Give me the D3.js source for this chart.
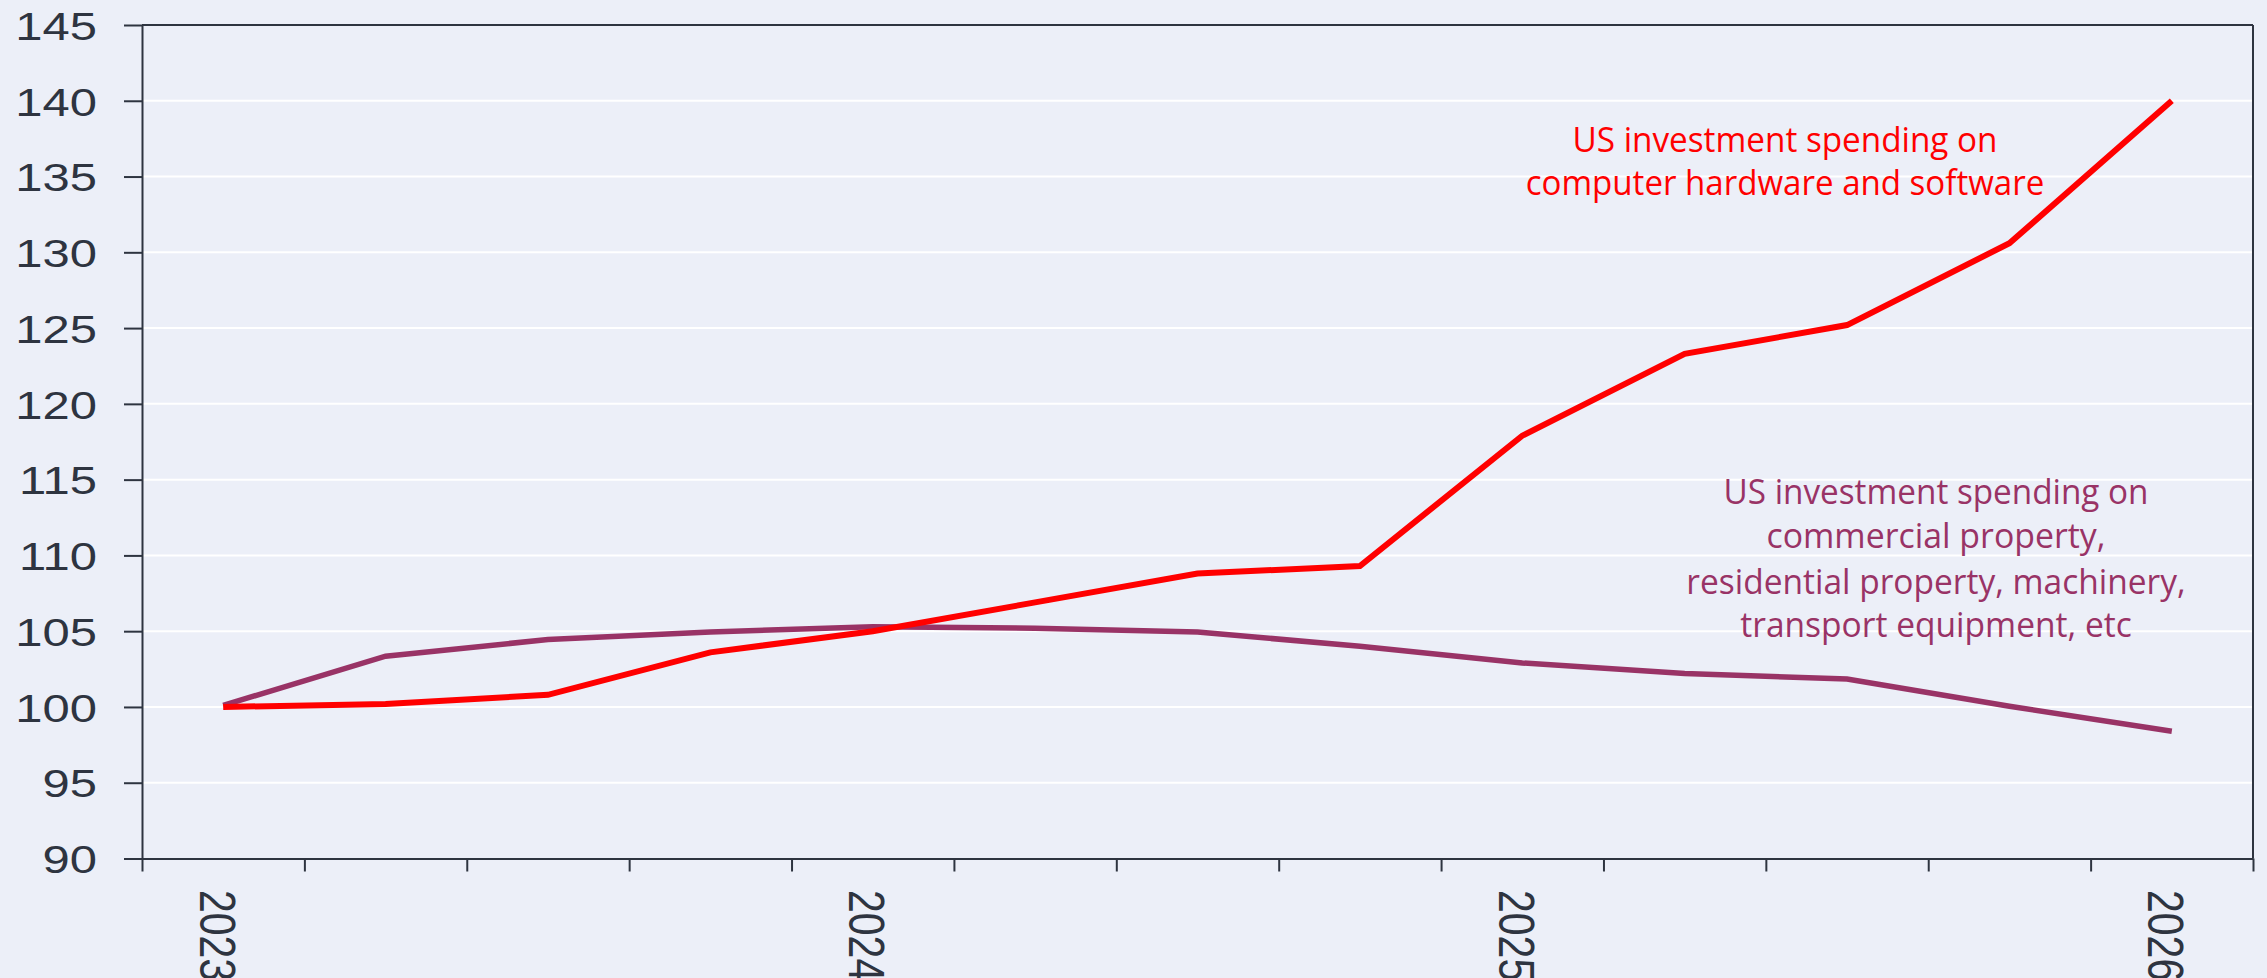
<!DOCTYPE html>
<html>
<head>
<meta charset="utf-8">
<script src="https://cdn.jsdelivr.net/npm/d3@7"></script>
<style>
  html, body { margin: 0; padding: 0; background: #eceff8; }
  svg { display: block; }
</style>
</head>
<body>
<svg id="chart" width="2267" height="978"></svg>
<script>
// ---------------- DATA ----------------
const quarters = [
  "2023 Q1", "2023 Q2", "2023 Q3", "2023 Q4",
  "2024 Q1", "2024 Q2", "2024 Q3", "2024 Q4",
  "2025 Q1", "2025 Q2", "2025 Q3", "2025 Q4",
  "2026 Q1"
];
// US investment spending on computer hardware and software (index)
const techSpending = [100.0, 100.2, 100.8, 103.6, 105.0, 106.9, 108.8, 109.3, 117.9, 123.3, 125.2, 130.6, 140.0];
// US investment spending on everything else (index)
const otherSpending = [100.1, 103.35, 104.45, 104.95, 105.3, 105.2, 104.95, 104.0, 102.9, 102.2, 101.85, 100.05, 98.4];

const yTicks = [90, 95, 100, 105, 110, 115, 120, 125, 130, 135, 140, 145];
const gridTicks = [95, 100, 105, 110, 115, 120, 125, 130, 135, 140];
const yearLabels = ["2023", "2024", "2025", "2026"];
const yearLabelQuarters = ["2023 Q1", "2024 Q1", "2025 Q1", "2026 Q1"];

const techLabel = ["US investment spending on", "computer hardware and software"];
const otherLabel = [
  "US investment spending on",
  "commercial property,",
  "residential property, machinery,",
  "transport equipment, etc"
];

// ---------------- LAYOUT / STYLE ----------------
const W = 2267, H = 978;
const plot = { left: 142, right: 2253, top: 25, bottom: 858.5 };
const C = {
  bg: "#eceff8",
  axis: "#2e3440",
  grid: "#ffffff",
  tech: "#ff0000",
  other: "#993366"
};
const tickFont = "'Liberation Sans', Arial, Helvetica, sans-serif";
const annFont = "'Open Sans', 'Noto Sans', sans-serif";
const hStretch = 1.24;

const svg = d3.select("#chart");
svg.append("rect").attr("width", W).attr("height", H).attr("fill", C.bg);

const x = d3.scaleBand().domain(quarters).range([plot.left, plot.right]).padding(0);
const xEdge = d3.scaleLinear().domain([0, quarters.length]).range([plot.left, plot.right]);
const y = d3.scaleLinear().domain([90, 145]).range([plot.bottom, plot.top]);
const cx = q => x(q) + x.bandwidth() / 2;

// gridlines
svg.append("g")
  .selectAll("line")
  .data(gridTicks)
  .join("line")
  .attr("x1", plot.left).attr("x2", plot.right)
  .attr("y1", d => y(d)).attr("y2", d => y(d))
  .attr("stroke", C.grid).attr("stroke-width", 2);

// frame: top and right
svg.append("line")
  .attr("x1", plot.left).attr("x2", plot.right)
  .attr("y1", y(145)).attr("y2", y(145))
  .attr("stroke", C.axis).attr("stroke-width", 2);
svg.append("line")
  .attr("x1", plot.right).attr("x2", plot.right)
  .attr("y1", y(145)).attr("y2", y(90))
  .attr("stroke", C.axis).attr("stroke-width", 2);

// y axis
const yAxis = svg.append("g")
  .attr("transform", `translate(${plot.left},0)`)
  .call(d3.axisLeft(y).tickValues(yTicks).tickSize(18).tickSizeOuter(0).tickFormat(d3.format("d")));
yAxis.select(".domain").attr("stroke", C.axis).attr("stroke-width", 2);
yAxis.selectAll(".tick line").attr("stroke", C.axis).attr("stroke-width", 2);
yAxis.selectAll(".tick text")
  .attr("x", 0)
  .attr("dy", "0.36em")
  .attr("transform", `translate(${97 - plot.left},0) scale(${hStretch},1)`)
  .attr("text-anchor", "end")
  .style("font-family", tickFont)
  .style("font-size", "39.5px")
  .attr("fill", C.axis);

// x axis (ticks at quarter boundaries)
const xAxis = svg.append("g")
  .attr("transform", `translate(0,${plot.bottom})`)
  .call(d3.axisBottom(xEdge).tickValues(d3.range(quarters.length + 1)).tickSize(13).tickSizeOuter(0).tickFormat(""));
xAxis.select(".domain").attr("stroke", C.axis).attr("stroke-width", 2);
xAxis.selectAll(".tick line").attr("stroke", C.axis).attr("stroke-width", 2);

// year labels (rotated, running off the bottom edge as in the original)
svg.append("g")
  .selectAll("text")
  .data(yearLabels)
  .join("text")
  .attr("transform", (d, i) => `translate(${cx(yearLabelQuarters[i]) - 5},890) scale(${hStretch},1) rotate(90)`)
  .attr("dy", "0.36em")
  .attr("text-anchor", "start")
  .style("font-family", tickFont)
  .style("font-size", "41px")
  .attr("fill", C.axis)
  .text(d => d);

// lines
const line = d3.line().x((d, i) => cx(quarters[i])).y(d => y(d));
svg.append("path")
  .datum(otherSpending)
  .attr("d", line)
  .attr("fill", "none")
  .attr("stroke", C.other)
  .attr("stroke-width", 5.5);
svg.append("path")
  .datum(techSpending)
  .attr("d", line)
  .attr("fill", "none")
  .attr("stroke", C.tech)
  .attr("stroke-width", 6);

// annotations
function annotate(lines, centerX, baselines, widths, color) {
  svg.append("g")
    .selectAll("text")
    .data(lines)
    .join("text")
    .attr("x", centerX)
    .attr("y", (d, i) => baselines[i])
    .attr("text-anchor", "middle")
    .attr("textLength", (d, i) => widths[i])
    .attr("lengthAdjust", "spacingAndGlyphs")
    .style("font-family", annFont)
    .style("font-size", "35.5px")
    .attr("fill", color)
    .text(d => d);
}
annotate(techLabel, 1785, [151.7, 195], [425, 518.5], C.tech);
annotate(otherLabel, 1936, [503.5, 548.3, 593.5, 636.8], [425, 339, 499.5, 391.5], C.other);
</script>
</body>
</html>
